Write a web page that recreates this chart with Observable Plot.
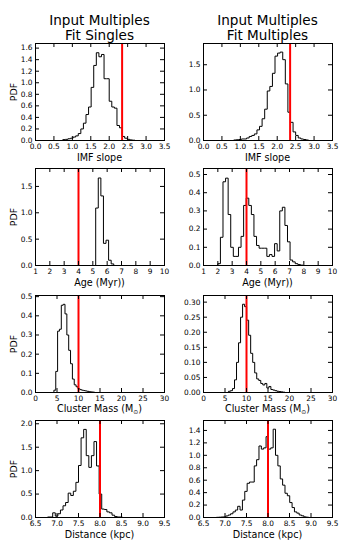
<!DOCTYPE html>
<html>
<head>
<meta charset="utf-8">
<script src="https://cdn.jsdelivr.net/npm/d3@7"></script>
<script src="https://cdn.jsdelivr.net/npm/@observablehq/plot@0.6"></script>
<style>
  html, body { margin: 0; padding: 0; background: white; }
  #chart { position: relative; width: 350px; height: 550px; overflow: hidden; background: white; font-family: "DejaVu Sans", sans-serif; color: black; }
  .lbl { position: absolute; white-space: nowrap; transform: translate(-50%, -50%); line-height: normal; }
  .lbl sub { font-size: 0.62em; vertical-align: -0.35em; }
</style>
</head>
<body>
<div id="chart"></div>
<script>
// ---------- Titles and labels ----------
const columnTitles = [["Input Multiples", "Fit Singles"], ["Input Multiples", "Fit Multiples"]];
const xLabels = ["IMF slope", "Age (Myr))", "Cluster Mass (M<sub>⊙</sub>)", "Distance (kpc)"];
const yLabel = "PDF";

// ---------- Tick values ----------
const imfTicks = [0.0, 0.5, 1.0, 1.5, 2.0, 2.5, 3.0, 3.5];
const ageTicks = [1, 2, 3, 4, 5, 6, 7, 8, 9, 10];
const massTicks = [0, 5, 10, 15, 20, 25, 30];
const distTicks = [6.5, 7.0, 7.5, 8.0, 8.5, 9.0, 9.5];

const imfSinglesYTicks = [0.0, 0.2, 0.4, 0.6, 0.8, 1.0, 1.2, 1.4, 1.6];
const imfMultYTicks = [0.0, 0.5, 1.0, 1.5];
const ageSinglesYTicks = [0.0, 0.5, 1.0, 1.5];
const ageMultYTicks = [0.0, 0.1, 0.2, 0.3, 0.4, 0.5];
const massSinglesYTicks = [0.0, 0.1, 0.2, 0.3, 0.4, 0.5];
const massMultYTicks = [0.00, 0.05, 0.10, 0.15, 0.20, 0.25, 0.30];
const distSinglesYTicks = [0.0, 0.5, 1.0, 1.5, 2.0];
const distMultYTicks = [0.0, 0.2, 0.4, 0.6, 0.8, 1.0, 1.2, 1.4];

// ---------- Axis ranges ----------
const imfDomain = [0, 3.5];
const ageDomain = [1, 10];
const massDomain = [0, 30];
const distDomain = [6.5, 9.5];
const yTops = [1.68, 1.92, 1.84, 0.533, 0.506, 0.322, 2.07, 1.56];

// ---------- True (input) values ----------
const trueIMF = 2.35;
const trueAge = 4;
const trueMass = 10;
const trueDist = 8.0;

// ---------- Histograms: bin edges and PDF heights ----------
const imfSinglesEdges = [0.74,0.81,0.88,0.95,1.02,1.09,1.16,1.23,1.30,1.37,1.44,1.51,1.58,1.65,1.72,1.79,1.86,1.93,2.00,2.07,2.14,2.21,2.28,2.35,2.42,2.49,2.56,2.63,2.70];
const imfSinglesPdf = [0.015,0.02,0.03,0.04,0.06,0.08,0.12,0.20,0.30,0.45,0.58,0.92,1.30,1.52,1.45,1.49,1.07,1.07,0.68,0.58,0.56,0.26,0.22,0.07,0.04,0.02,0.01,0.005];

const imfMultEdges = [0.82,0.89,0.96,1.03,1.10,1.17,1.24,1.31,1.38,1.45,1.52,1.59,1.66,1.73,1.80,1.87,1.94,2.01,2.08,2.15,2.22,2.29,2.36,2.43,2.50,2.57,2.64,2.71,2.78,2.85];
const imfMultPdf = [0.01,0.015,0.02,0.03,0.03,0.05,0.08,0.10,0.13,0.21,0.28,0.43,0.62,0.98,1.07,1.33,1.67,1.73,1.75,1.60,1.12,0.56,0.36,0.17,0.10,0.05,0.03,0.02,0.01];

const ageSinglesEdges = [5.20,5.38,5.56,5.74,5.92,6.10,6.28,6.46];
const ageSinglesPdf = [1.09,1.66,1.32,0.42,0.48,0.10,0.03];

const ageMultEdges = [2.00,2.18,2.36,2.54,2.72,2.90,3.08,3.26,3.44,3.62,3.80,3.98,4.16,4.34,4.52,4.70,4.88,5.06,5.24,5.42,5.60,5.78,5.96,6.14,6.32,6.50,6.68,6.86,7.04,7.22,7.40,7.58,7.76,7.94];
const ageMultPdf = [0.01,0.155,0.46,0.48,0.28,0.10,0.05,0.05,0.10,0.16,0.33,0.37,0.33,0.28,0.16,0.11,0.095,0.095,0.095,0.05,0.06,0.05,0.12,0.08,0.30,0.32,0.22,0.13,0.03,0.02,0.01,0.005,0.002];

const massSinglesEdges = [4.28,4.71,5.14,5.57,6.00,6.43,6.86,7.29,7.72,8.15,8.58,9.01,9.44,9.87,10.30,10.73,11.16,11.59,12.02,12.45,12.88,13.31,13.74];
const massSinglesPdf = [0.012,0.11,0.32,0.33,0.455,0.46,0.41,0.30,0.22,0.15,0.07,0.04,0.03,0.02,0.015,0.012,0.01,0.008,0.006,0.004,0.003,0.002];

const massMultEdges = [5.80,6.27,6.74,7.21,7.68,8.15,8.62,9.09,9.56,10.03,10.50,10.97,11.44,11.91,12.38,12.85,13.32,13.79,14.26,14.73,15.20,15.67,16.14,16.61,17.08,17.55,18.02,18.49,18.96];
const massMultPdf = [0.004,0.006,0.013,0.042,0.10,0.165,0.25,0.293,0.285,0.24,0.19,0.13,0.10,0.065,0.045,0.04,0.03,0.025,0.03,0.015,0.02,0.01,0.008,0.006,0.004,0.003,0.002,0.001];

const distSinglesEdges = [6.78,6.90,6.96,7.02,7.08,7.14,7.20,7.26,7.32,7.38,7.44,7.50,7.56,7.62,7.68,7.74,7.80,7.86,7.92,7.98,8.04,8.10,8.16,8.22,8.28,8.34,8.40,8.52];
const distSinglesPdf = [0.01,0.10,0.03,0.08,0.16,0.25,0.32,0.52,0.47,0.56,0.75,1.11,1.70,1.88,1.32,1.07,1.32,1.62,1.10,0.50,0.18,0.17,0.12,0.10,0.05,0.02,0.01];

const distMultEdges = [6.800,6.855,6.910,6.965,7.020,7.075,7.130,7.185,7.240,7.295,7.350,7.405,7.460,7.515,7.570,7.625,7.680,7.735,7.790,7.845,7.900,7.955,8.010,8.065,8.120,8.175,8.230,8.285,8.340,8.395,8.450,8.505,8.560,8.615,8.670,8.725,8.780,8.835,8.890,8.945];
const distMultPdf = [0.003,0.005,0.008,0.01,0.025,0.04,0.06,0.09,0.12,0.18,0.12,0.28,0.42,0.55,0.57,0.57,0.83,0.93,1.15,1.10,1.12,1.30,1.10,1.12,1.42,1.00,0.83,0.62,0.52,0.39,0.35,0.24,0.16,0.09,0.07,0.04,0.027,0.01,0.005];

// ---------- Layout ----------
const FW = 129, FH = 97;
const colLefts = [35, 203];
const rowTops = [43, 168, 295, 420];
const ML = 34, MR = 8, MT = 6, MB = 16, TICK = 4;

const panels = [
  {row:0,col:0,edges:imfSinglesEdges,pdf:imfSinglesPdf,xDomain:imfDomain,xTicks:imfTicks,xFmt:".1f",yTop:yTops[0],yTicks:imfSinglesYTicks,yFmt:".1f",truth:trueIMF},
  {row:0,col:1,edges:imfMultEdges,pdf:imfMultPdf,xDomain:imfDomain,xTicks:imfTicks,xFmt:".1f",yTop:yTops[1],yTicks:imfMultYTicks,yFmt:".1f",truth:trueIMF},
  {row:1,col:0,edges:ageSinglesEdges,pdf:ageSinglesPdf,xDomain:ageDomain,xTicks:ageTicks,xFmt:"d",yTop:yTops[2],yTicks:ageSinglesYTicks,yFmt:".1f",truth:trueAge},
  {row:1,col:1,edges:ageMultEdges,pdf:ageMultPdf,xDomain:ageDomain,xTicks:ageTicks,xFmt:"d",yTop:yTops[3],yTicks:ageMultYTicks,yFmt:".1f",truth:trueAge},
  {row:2,col:0,edges:massSinglesEdges,pdf:massSinglesPdf,xDomain:massDomain,xTicks:massTicks,xFmt:"d",yTop:yTops[4],yTicks:massSinglesYTicks,yFmt:".1f",truth:trueMass},
  {row:2,col:1,edges:massMultEdges,pdf:massMultPdf,xDomain:massDomain,xTicks:massTicks,xFmt:"d",yTop:yTops[5],yTicks:massMultYTicks,yFmt:".2f",truth:trueMass},
  {row:3,col:0,edges:distSinglesEdges,pdf:distSinglesPdf,xDomain:distDomain,xTicks:distTicks,xFmt:".1f",yTop:yTops[6],yTicks:distSinglesYTicks,yFmt:".1f",truth:trueDist},
  {row:3,col:1,edges:distMultEdges,pdf:distMultPdf,xDomain:distDomain,xTicks:distTicks,xFmt:".1f",yTop:yTops[7],yTicks:distMultYTicks,yFmt:".1f",truth:trueDist}
];

const chart = document.getElementById("chart");

function addLabel(html, cx, cy, size, rotate) {
  const d = document.createElement("div");
  d.className = "lbl";
  d.innerHTML = html;
  d.style.left = cx + "px";
  d.style.top = cy + "px";
  d.style.fontSize = size + "px";
  if (rotate) d.style.transform = "translate(-50%, -50%) rotate(-90deg)";
  chart.appendChild(d);
}

for (const p of panels) {
  const pts = [{x: p.edges[0], y: 0}];
  p.pdf.forEach((v, i) => pts.push({x: p.edges[i], y: v}));
  pts.push({x: p.edges[p.edges.length - 1], y: 0});

  const svg = Plot.plot({
    width: FW + ML + MR,
    height: FH + MT + MB,
    marginLeft: ML, marginRight: MR, marginTop: MT, marginBottom: MB,
    style: {fontFamily: "DejaVu Sans", fontSize: "7.4px", color: "black", background: "transparent", overflow: "visible"},
    x: {domain: p.xDomain},
    y: {domain: [0, p.yTop]},
    marks: [
      Plot.line(pts, {x: "x", y: "y", curve: "step-after", stroke: "black", strokeWidth: 1}),
      Plot.ruleX([p.truth], {stroke: "#ff0000", strokeWidth: 2}),
      Plot.tickX(p.xTicks, {x: d => d, insetTop: FH - TICK, stroke: "black"}),
      Plot.tickX(p.xTicks, {x: d => d, insetBottom: FH - TICK, stroke: "black"}),
      Plot.tickY(p.yTicks, {y: d => d, insetRight: FW - TICK, stroke: "black"}),
      Plot.tickY(p.yTicks, {y: d => d, insetLeft: FW - TICK, stroke: "black"}),
      Plot.frame({stroke: "black", strokeWidth: 1}),
      Plot.axisX({ticks: p.xTicks, tickSize: 0, tickPadding: 3, tickFormat: d3.format(p.xFmt), label: null}),
      Plot.axisY({ticks: p.yTicks, tickSize: 0, tickPadding: 3, tickFormat: d3.format(p.yFmt), label: null})
    ]
  });
  svg.style.position = "absolute";
  svg.style.left = (colLefts[p.col] - ML) + "px";
  svg.style.top = (rowTops[p.row] - MT) + "px";
  svg.style.maxWidth = "none";
  chart.appendChild(svg);

  const cx = colLefts[p.col] + FW / 2;
  addLabel(xLabels[p.row], cx, rowTops[p.row] + FH + 17, 9.6);
  if (p.col === 0) addLabel(yLabel, 13, rowTops[p.row] + FH / 2, 9.4, true);
}

columnTitles.forEach((t, c) => {
  const cx = colLefts[c] + FW / 2;
  addLabel(t[0], cx, 20, 13.6);
  addLabel(t[1], cx, 35, 13.6);
});
</script>
</body>
</html>
